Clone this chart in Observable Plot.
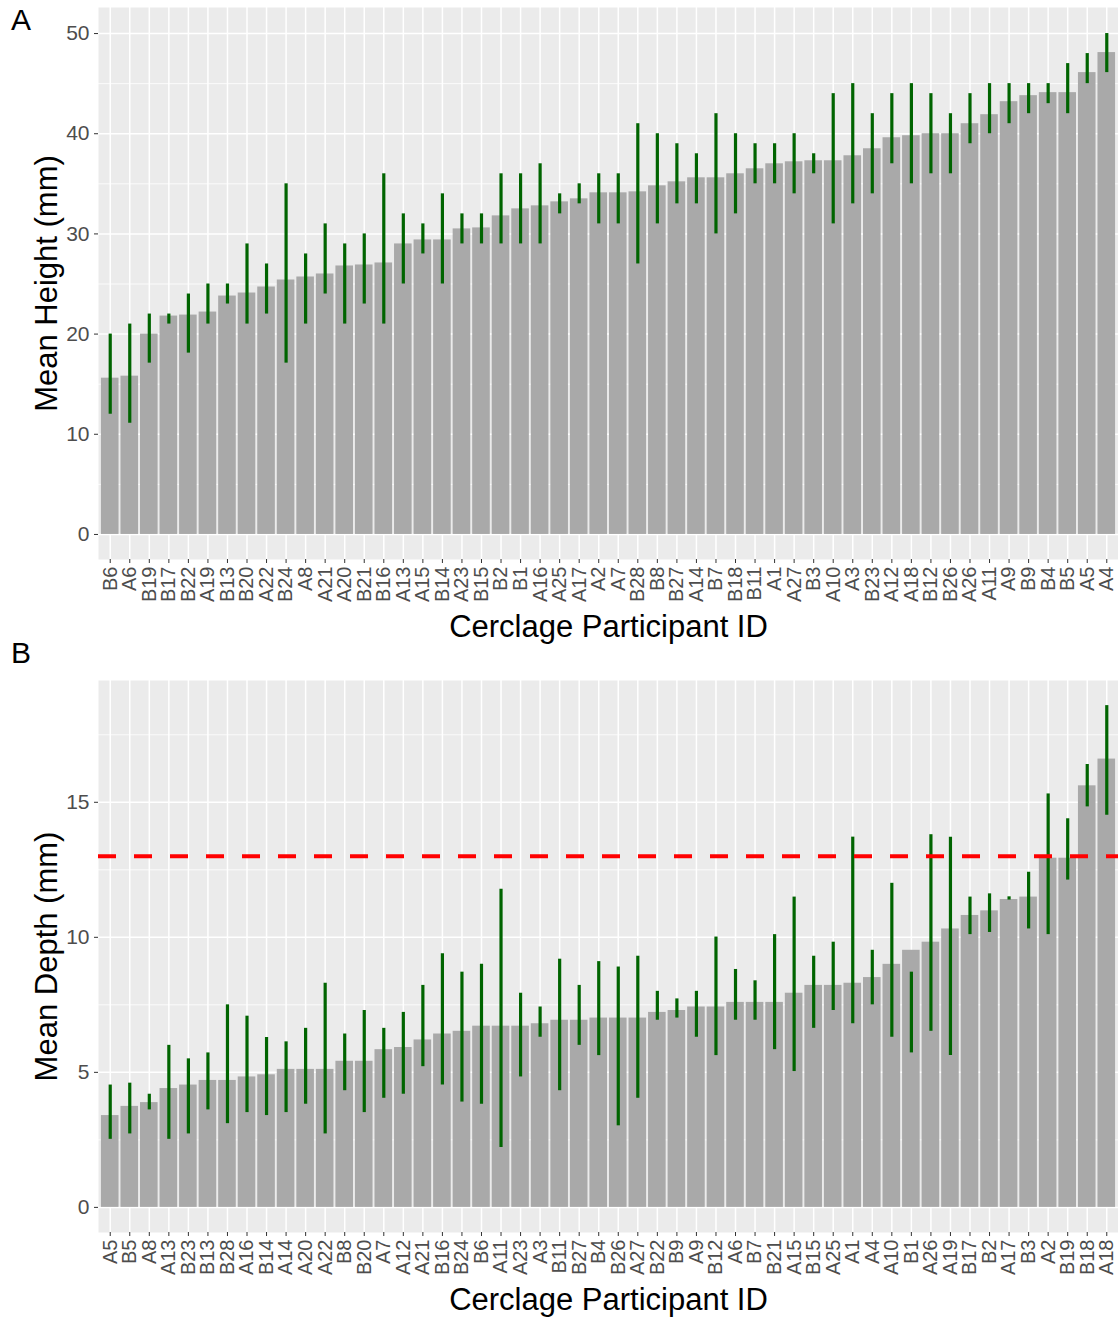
<!DOCTYPE html>
<html><head><meta charset="utf-8">
<script src="https://cdn.jsdelivr.net/npm/d3@7"></script>
<script src="https://cdn.jsdelivr.net/npm/@observablehq/plot@0.6"></script>
<style>
body{margin:0;background:#fff;font-family:"Liberation Sans",Arial,sans-serif}
#wrap{position:relative;width:1118px;height:1318px;background:#fff}
.panel{position:absolute;left:0}
.tag{position:absolute;left:11px;font-size:30px;line-height:1;color:#000;font-family:"Liberation Sans",Arial,sans-serif}
</style></head>
<body><div id="wrap"></div>
<script>
// Panel A: mean height
const idsA = ["B6","A6","B19","B17","B22","A19","B13","B20","A22","B24","A8","A21","A20","B21","B16","A13","A15","B14","A23","B15","B2","B1","A16","A25","A17","A2","A7","B28","B8","B27","A14","B7","B18","B11","A1","A27","B3","A10","A3","B23","A12","A18","B12","B26","A26","A11","A9","B9","B4","B5","A5","A4"];
const meanA = [15.6,15.8,20.0,21.8,21.9,22.2,23.8,24.1,24.7,25.4,25.7,26.0,26.8,26.9,27.1,29.0,29.4,29.4,30.5,30.6,31.8,32.5,32.8,33.2,33.5,34.1,34.1,34.2,34.8,35.2,35.6,35.6,36.0,36.5,37.0,37.2,37.3,37.3,37.8,38.5,39.6,39.8,40.0,40.0,41.0,41.9,43.2,43.8,44.1,44.1,46.1,48.1];
const loA = [12,11.1,17.1,21,18.1,21,23,21,22,17.1,21,24,21,23,21,25,28,25,29,29,29,29,29,32,33,31,31,27,31,33,33,30,32,35,35,34,36,31,33,34,37,35,36,36,39,40,41,42,43,42,45,46.1];
const hiA = [20,21,22,22,24,25,25,29,27,35,28,31,29,30,36,32,31,34,32,32,36,36,37,34,35,36,36,41,40,39,38,42,40,39,39,40,38,44,45,42,44,45,44,42,44,45,45,45,45,47,48,50];

// Panel B: mean depth
const idsB = ["A5","B5","A8","A13","B23","B13","B28","A16","B14","A14","A20","A22","B8","B20","A7","A12","A21","B16","B24","B6","A11","A23","A3","B11","B27","B4","B26","A27","B22","B9","A9","B12","A6","B7","B21","A15","B15","A25","A1","A4","A10","B1","A26","A19","B17","B2","A17","B3","A2","B19","B18","A18"];
const meanB = [3.4,3.74,3.88,4.4,4.53,4.7,4.7,4.83,4.91,5.11,5.11,5.11,5.41,5.41,5.84,5.92,6.2,6.42,6.52,6.71,6.71,6.71,6.8,6.93,6.93,7.01,7.01,7.01,7.22,7.29,7.42,7.42,7.59,7.59,7.59,7.93,8.22,8.22,8.3,8.51,9.0,9.52,9.82,10.31,10.81,10.98,11.4,11.49,12.93,12.93,15.61,16.6];
const loB = [2.52,2.72,3.61,2.52,2.72,3.61,3.1,3.51,3.4,3.51,3.82,2.72,4.32,3.51,4.04,4.19,5.21,4.53,3.9,3.82,2.22,4.83,6.3,4.32,6.0,5.62,3.02,4.04,6.93,7.01,6.3,5.62,6.93,6.93,5.84,5.03,6.63,7.29,6.8,7.5,6.3,5.72,6.52,5.62,10.1,10.18,11.38,10.31,10.1,12.12,14.83,14.52];
const hiB = [4.53,4.6,4.19,6.0,5.5,5.72,7.5,7.08,6.29,6.13,6.63,8.3,6.42,7.29,6.63,7.22,8.22,9.39,8.71,9.0,11.78,7.93,7.42,9.19,8.22,9.1,8.9,9.3,8.0,7.72,8.0,10.01,8.81,8.39,10.1,11.49,9.3,9.82,13.71,9.52,12.0,8.71,13.8,13.71,11.49,11.61,11.5,12.41,15.31,14.39,16.4,18.58];

const ticksA = [0,10,20,30,40,50];
const minorA = [5,15,25,35,45];
const ticksB = [0,5,10,15];
const minorB = [2.5,7.5,12.5,17.5];
const refDepth = 13;

const font = '"Liberation Sans", Arial, sans-serif';

function panel({ids, mean, lo, hi, domain, majors, minors, yTitle, height, marginTop, refLine}) {
  const data = ids.map((id, i) => ({id, mean: mean[i], lo: lo[i], hi: hi[i]}));
  const marks = [
    Plot.frame({fill: "#EBEBEB", stroke: null}),
    Plot.ruleY(minors, {stroke: "white", strokeWidth: 0.8}),
    Plot.ruleY(majors, {stroke: "white", strokeWidth: 1.5}),
    Plot.gridX({stroke: "white", strokeOpacity: 1, strokeWidth: 1.5}),
    Plot.barY(data, {x: "id", y: "mean", fill: "#A9A9A9"}),
    Plot.ruleX(data, {x: "id", y1: "lo", y2: "hi", stroke: "#006400", strokeWidth: 3.2})
  ];
  if (refLine != null) marks.push(Plot.ruleY([refLine], {stroke: "red", strokeWidth: 4, strokeDasharray: "18,18"}));
  marks.push(
    Plot.axisY({ticks: majors, tickSize: 4, tickPadding: 5, fontSize: 21, fill: "#4D4D4D", stroke: "#333333", label: null}),
    Plot.axisX({tickSize: 4, tickPadding: 3, tickRotate: -90, fontSize: 20, fill: "#4D4D4D", stroke: "#333333", label: null}),
    Plot.text([yTitle], {frameAnchor: "left", text: d => d, rotate: -90, dx: -51, textAnchor: "middle", lineAnchor: "middle", fontSize: 31, fill: "black"}),
    Plot.text(["Cerclage Participant ID"], {frameAnchor: "bottom", text: d => d, dy: 68, textAnchor: "middle", lineAnchor: "middle", fontSize: 31, fill: "black"})
  );
  return Plot.plot({
    width: 1118, height, marginLeft: 98, marginRight: 0, marginTop, marginBottom: 86,
    x: {domain: ids, paddingInner: 0.1, paddingOuter: 0.15, round: false},
    y: {domain},
    style: {fontFamily: font, background: "white", overflow: "visible"},
    marks
  });
}

const wrap = document.getElementById("wrap");
const pA = panel({ids: idsA, mean: meanA, lo: loA, hi: hiA, domain: [-2.5, 52.6], majors: ticksA, minors: minorA, yTitle: "Mean Height (mm)", height: 645, marginTop: 7});
pA.classList.add("panel"); pA.style.top = "0px";
const pB = panel({ids: idsB, mean: meanB, lo: loB, hi: hiB, domain: [-0.93, 19.51], majors: ticksB, minors: minorB, yTitle: "Mean Depth (mm)", height: 673, marginTop: 35, refLine: refDepth});
pB.classList.add("panel"); pB.style.top = "645px";
wrap.appendChild(pA);
wrap.appendChild(pB);
for (const [t, top] of [["A", 5], ["B", 638]]) {
  const d = document.createElement("div");
  d.className = "tag"; d.textContent = t; d.style.top = top + "px";
  wrap.appendChild(d);
}
</script>
</body></html>
